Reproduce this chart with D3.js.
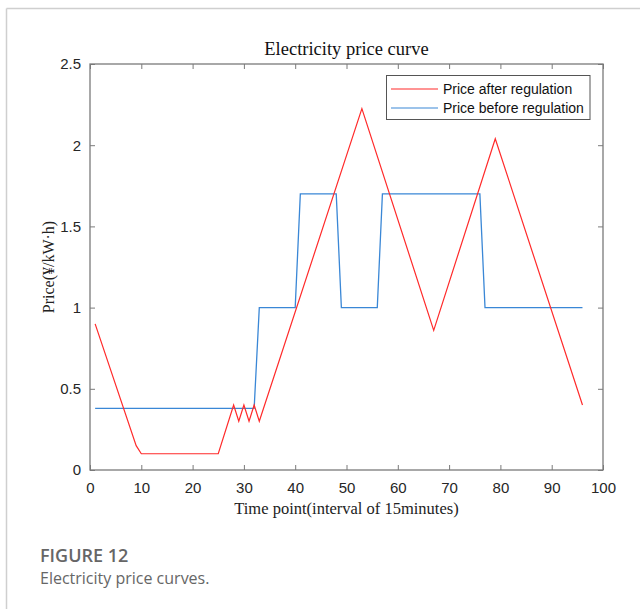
<!DOCTYPE html>
<html>
<head>
<meta charset="utf-8">
<script src="https://cdn.jsdelivr.net/npm/d3@7"></script>
<style>
  body { margin: 0; background: #fff; }
  svg { display: block; }
</style>
</head>
<body>
<div id="chart"></div>
<script>
// vertices of the two price lines, [time point, price]
var afterRegulation = [
  [1, 0.9], [9, 0.15], [10, 0.1], [25, 0.1], [28, 0.4], [29, 0.3], [30, 0.4],
  [31, 0.3], [32, 0.4], [33, 0.3], [53, 2.225], [67, 0.86], [79, 2.04], [96, 0.4]
];
var beforeRegulation = [
  [1, 0.38], [32, 0.38], [33, 1.0], [40, 1.0], [41, 1.7], [48, 1.7], [49, 1.0],
  [56, 1.0], [57, 1.7], [76, 1.7], [77, 1.0], [96, 1.0]
];
var xTicks = [0, 10, 20, 30, 40, 50, 60, 70, 80, 90, 100];
var yTicks = [0, 0.5, 1, 1.5, 2, 2.5];
var seriesNames = ["Price after regulation", "Price before regulation"];
var seriesColors = ["#ff2a2a", "#3a87d6"];

(function() {
  var width = 640, height = 609;
  var left = 90, right = 603, top = 64, bottom = 470;

  var svg = d3.select("#chart").append("svg")
    .attr("width", width)
    .attr("height", height);

  // figure frame (page border)
  svg.append("line").attr("x1", 6.5).attr("x2", width).attr("y1", 8.5).attr("y2", 8.5)
    .attr("stroke", "#cfcfcf").attr("stroke-width", 1.5);
  svg.append("line").attr("x1", 6.5).attr("x2", 6.5).attr("y1", 8.5).attr("y2", height)
    .attr("stroke", "#cfcfcf").attr("stroke-width", 1.5);

  var x = d3.scaleLinear().domain([0, 100]).range([left, right]);
  var y = d3.scaleLinear().domain([0, 2.5]).range([bottom, top]);

  var axisColor = "#7a7a7a";
  var tickFont = "'Liberation Sans', Arial, sans-serif";
  var serif = "'Liberation Serif', 'Times New Roman', serif";

  // ticks inward on all four sides
  function styleAxis(g) {
    g.select(".domain").remove();
    g.selectAll(".tick line").attr("stroke", axisColor);
    g.selectAll(".tick text").attr("fill", "#262626")
      .style("font-family", tickFont).style("font-size", "15px");
  }

  svg.append("g").attr("transform", "translate(0," + bottom + ")")
    .call(d3.axisBottom(x).tickValues(xTicks).tickSizeInner(-5).tickSizeOuter(0).tickPadding(12))
    .call(styleAxis);
  svg.append("g").attr("transform", "translate(0," + top + ")")
    .call(d3.axisTop(x).tickValues(xTicks).tickSizeInner(-5).tickSizeOuter(0).tickFormat(""))
    .call(styleAxis);
  svg.append("g").attr("transform", "translate(" + left + ",0)")
    .call(d3.axisLeft(y).tickValues(yTicks).tickSizeInner(-5).tickSizeOuter(0).tickPadding(9)
      .tickFormat(function(d) { return d3.format("")(d); }))
    .call(styleAxis);
  svg.append("g").attr("transform", "translate(" + right + ",0)")
    .call(d3.axisRight(y).tickValues(yTicks).tickSizeInner(-5).tickSizeOuter(0).tickFormat(""))
    .call(styleAxis);

  svg.append("rect")
    .attr("x", left).attr("y", top)
    .attr("width", right - left).attr("height", bottom - top)
    .attr("fill", "none").attr("stroke", axisColor).attr("stroke-width", 1.3);

  var line = d3.line()
    .x(function(d) { return x(d[0]); })
    .y(function(d) { return y(d[1]); });

  svg.append("path").datum(beforeRegulation)
    .attr("d", line).attr("fill", "none")
    .attr("stroke", seriesColors[1]).attr("stroke-width", 1.3);
  svg.append("path").datum(afterRegulation)
    .attr("d", line).attr("fill", "none")
    .attr("stroke", seriesColors[0]).attr("stroke-width", 1.2);

  // title and axis labels
  svg.append("text").attr("x", (left + right) / 2).attr("y", 55)
    .attr("text-anchor", "middle").attr("fill", "#111")
    .style("font-family", serif).style("font-size", "18.5px")
    .text("Electricity price curve");
  svg.append("text").attr("x", (left + right) / 2).attr("y", 514)
    .attr("text-anchor", "middle").attr("fill", "#222")
    .style("font-family", serif).style("font-size", "16.5px")
    .text("Time point(interval of 15minutes)");
  svg.append("text")
    .attr("transform", "translate(54," + ((top + bottom) / 2) + ") rotate(-90)")
    .attr("text-anchor", "middle").attr("fill", "#222")
    .style("font-family", serif).style("font-size", "16px")
    .text("Price(¥/kW·h)");

  // legend
  var legend = svg.append("g");
  legend.append("rect")
    .attr("x", 386.5).attr("y", 75.5).attr("width", 203.5).attr("height", 44)
    .attr("fill", "#fff").attr("stroke", "#555").attr("stroke-width", 1);
  seriesNames.forEach(function(name, i) {
    var ly = 89 + i * 19;
    legend.append("line").attr("x1", 391).attr("x2", 438).attr("y1", ly).attr("y2", ly)
      .attr("stroke", seriesColors[i]).attr("stroke-width", 1.2);
    legend.append("text").attr("x", 443).attr("y", ly + 5)
      .attr("fill", "#111")
      .style("font-family", tickFont).style("font-size", "14px")
      .text(name);
  });

  // caption
  svg.append("text").attr("x", 40).attr("y", 562)
    .attr("fill", "#666").style("font-family", "'Open Sans', sans-serif")
    .style("font-size", "18px").style("font-weight", "600")
    .text("FIGURE 12");
  svg.append("text").attr("x", 40).attr("y", 584)
    .attr("fill", "#666").style("font-family", "'Open Sans', sans-serif")
    .style("font-size", "16px")
    .text("Electricity price curves.");
})();
</script>
</body>
</html>
